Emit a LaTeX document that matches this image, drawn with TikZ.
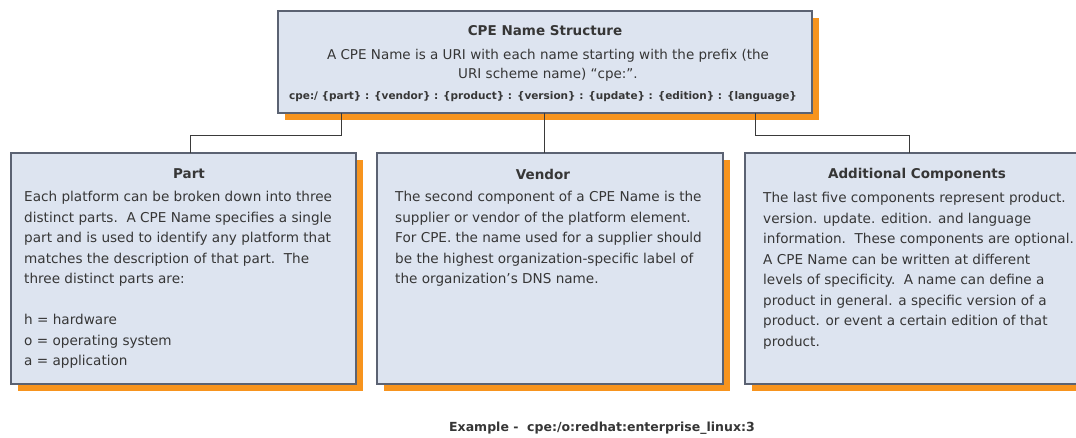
\documentclass[tikz,border=0pt]{standalone}
\usepackage{fontspec}
\setmainfont{DejaVu Sans}
\usetikzlibrary{shadows}
\definecolor{boxfill}{HTML}{DDE4F0}
\definecolor{boxline}{HTML}{5B6272}
\definecolor{shadoworange}{HTML}{F7941E}
\definecolor{txt}{HTML}{363636}
\definecolor{connline}{HTML}{3A3A3A}
\tikzset{
  box/.style={draw=boxline, line width=1.1pt, fill=boxfill, inner sep=0pt, outer sep=0pt, anchor=north west,
    drop shadow={shadow xshift=7pt, shadow yshift=-7pt, fill=shadoworange, opacity=1}},
  boxtitle/.style={text=txt, font=\fontsize{13.5}{16}\selectfont\bfseries, inner sep=0pt},
  boxbody/.style={text=txt, font=\fontsize{13.6}{20.5}\selectfont, align=left, inner sep=0pt, anchor=north west},
  conn/.style={draw=connline, line width=1pt}
}
\begin{document}
\begin{tikzpicture}[x=1pt,y=-1pt]
\useasboundingbox[fill=white] (0,0) rectangle (1076,438);
% boxes
\node[box, minimum width=534pt, minimum height=102pt] (top) at (278,11) {};
\node[box, minimum width=345pt, minimum height=231pt] (part) at (11,153) {};
\node[box, minimum width=346pt, minimum height=231pt] (vendor) at (377,153) {};
\node[box, minimum width=346pt, minimum height=231pt] (add) at (745,153) {};
% connectors
\draw[conn] (top.south -| 341,0) |- (190,136) -- (part.north -| 190,0);
\draw[conn] (top.south -| 544,0) -- (vendor.north -| 544,0);
\draw[conn] (top.south -| 755,0) |- (909,136) -- (add.north -| 909,0);
% top box text
\node[boxtitle] (toptitle) at (545,31) {CPE Name Structure};
\node[text=txt, font=\fontsize{13.5}{19}\selectfont, align=center, inner sep=0pt, anchor=north] (topbody) at (548,49)
  {A CPE Name is a URI with each name starting with the prefix (the\\URI scheme name) ``cpe:''.};
\node[text=txt, font=\fontsize{10.5}{12}\selectfont\bfseries, inner sep=0pt] (topsyntax) at (543,97)
  {cpe:/ \{part\} : \{vendor\} : \{product\} : \{version\} : \{update\} : \{edition\} : \{language\}};
% part
\node[boxtitle] (parttitle) at (189,174) {Part};
\node[boxbody] (partbody) at (24,191) {Each platform can be broken down into three\\
distinct parts.\ \ A CPE Name specifies a single\\
part and is used to identify any platform that\\
matches the description of that part.\ \ The\\
three distinct parts are:\\[20.5pt]
h = hardware\\
o = operating system\\
a = application};
% vendor
\node[boxtitle] (vendortitle) at (543,174) {Vendor};
\node[boxbody] (vendorbody) at (395,191) {The second component of a CPE Name is the\\
supplier or vendor of the platform element.\\
For CPE. the name used for a supplier should\\
be the highest organization-specific label of\\
the organization's DNS name.};
% additional
\node[boxtitle] (addtitle) at (917,175) {Additional Components};
\node[boxbody] (addbody) at (763,192) {The last five components represent product.\\
version. update. edition. and language\\
information.\ \ These components are optional.\\
A CPE Name can be written at different\\
levels of specificity.\ \ A name can define a\\
product in general. a specific version of a\\
product. or event a certain edition of that\\
product.};
% example
\node[text=txt, font=\fontsize{12.5}{15}\selectfont\bfseries, inner sep=0pt, anchor=west] (example) at (449,428)
  {Example -\ \ cpe:/o:redhat:enterprise\_linux:3};
\end{tikzpicture}
\end{document}
